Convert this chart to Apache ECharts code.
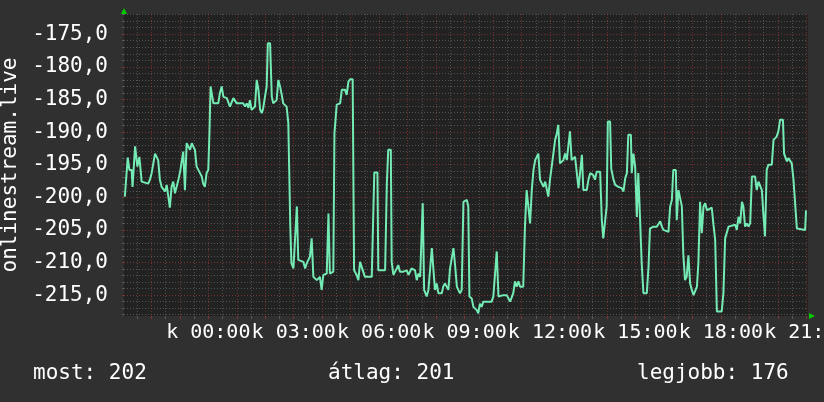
<!DOCTYPE html>
<html>
<head>
<meta charset="utf-8">
<script src="https://cdn.jsdelivr.net/npm/echarts@6/dist/echarts.min.js"></script>
<style>
html,body{margin:0;padding:0;background:#303030;}
#c{width:824px;height:402px;}
</style>
</head>
<body>
<div id="c"></div>
<script>
// time in hours relative to 00:00 of day "k"
const hours = [-2.93,-2.83,-2.77,-2.69,-2.66,-2.61,-2.57,-2.51,-2.49,-2.46,-2.42,-2.40,-2.34,-2.28,-2.11,-2.05,-1.99,-1.87,-1.81,-1.76,-1.70,-1.64,-1.52,-1.46,-1.41,-1.35,-1.29,-1.23,-1.17,-1.11,-1.05,-0.99,-0.93,-0.88,-0.82,-0.76,-0.70,-0.64,-0.58,-0.53,-0.47,-0.41,-0.35,-0.29,-0.23,-0.18,-0.12,-0.06,0.00,0.04,0.08,0.13,0.18,0.24,0.35,0.41,0.47,0.53,0.65,0.70,0.76,0.82,0.88,0.94,1.00,1.23,1.29,1.35,1.41,1.46,1.52,1.64,1.70,1.76,1.82,1.88,1.93,1.99,2.05,2.09,2.17,2.23,2.28,2.34,2.40,2.46,2.52,2.58,2.63,2.69,2.75,2.81,2.85,2.88,2.92,2.99,3.05,3.11,3.16,3.22,3.34,3.40,3.46,3.57,3.63,3.69,3.81,3.92,3.98,4.04,4.16,4.22,4.27,4.39,4.43,4.51,4.63,4.69,4.74,4.80,4.86,4.92,4.98,5.07,5.12,5.21,5.27,5.33,5.39,5.44,5.50,5.74,5.80,5.83,5.94,5.97,6.21,6.27,6.32,6.41,6.44,6.50,6.56,6.62,6.67,6.73,6.79,6.85,6.97,7.03,7.08,7.14,7.20,7.26,7.32,7.38,7.44,7.53,7.58,7.67,7.73,7.79,7.85,7.90,7.96,8.02,8.08,8.20,8.25,8.31,8.37,8.43,8.49,8.55,8.61,8.67,8.73,8.78,8.84,8.90,8.96,9.02,9.08,9.13,9.17,9.25,9.31,9.37,9.43,9.48,9.54,9.60,9.66,9.95,10.01,10.07,10.13,10.19,10.25,10.36,10.48,10.54,10.60,10.66,10.71,10.77,10.83,10.89,10.95,11.01,11.06,11.12,11.18,11.24,11.30,11.36,11.42,11.48,11.59,11.65,11.71,11.77,11.83,11.89,11.94,12.00,12.06,12.12,12.18,12.24,12.29,12.35,12.47,12.53,12.59,12.70,12.76,12.88,12.94,13.00,13.06,13.12,13.17,13.29,13.35,13.41,13.47,13.52,13.58,13.64,13.76,13.82,13.87,13.93,13.99,14.03,14.11,14.15,14.20,14.23,14.29,14.40,14.52,14.58,14.64,14.70,14.75,14.84,14.87,14.93,14.99,15.05,15.10,15.16,15.22,15.28,15.40,15.46,15.51,15.63,15.75,15.81,15.87,15.93,15.98,16.16,16.22,16.28,16.33,16.42,16.45,16.51,16.57,16.63,16.68,16.74,16.80,16.86,16.92,16.98,17.04,17.10,17.16,17.21,17.27,17.33,17.39,17.45,17.51,17.68,17.74,17.80,17.86,18.03,18.09,18.15,18.21,18.27,18.50,18.56,18.62,18.68,18.74,18.79,18.85,18.91,18.97,19.03,19.09,19.20,19.26,19.32,19.38,19.44,19.49,19.55,19.61,19.67,19.79,19.85,19.96,20.02,20.08,20.18,20.22,20.32,20.37,20.43,20.49,20.55,20.61,20.67,20.72,20.96,20.99];
const values = [-199.9,-193.9,-195.8,-195.8,-198.4,-198.4,-192.2,-192.2,-195.3,-195.3,-193.8,-193.8,-197.6,-197.9,-197.9,-197.3,-196.3,-193.3,-193.3,-194.3,-197.3,-198.4,-199.1,-198.1,-198.1,-201.6,-198.4,-197.6,-199.4,-199.4,-197.3,-196.1,-196.1,-193.0,-198.9,-191.7,-191.7,-192.7,-191.7,-192.2,-192.7,-195.3,-195.8,-196.3,-196.8,-197.9,-198.4,-196.3,-195.8,-190.2,-183.0,-183.0,-185.6,-185.6,-185.6,-184.0,-183.0,-184.6,-184.8,-185.1,-186.1,-186.1,-184.8,-185.1,-185.6,-185.6,-186.1,-185.6,-186.3,-185.1,-186.6,-186.1,-182.0,-183.5,-186.6,-187.1,-186.3,-184.6,-183.0,-176.4,-176.4,-184.6,-185.6,-185.8,-185.1,-182.0,-183.0,-184.3,-185.6,-185.8,-186.1,-188.6,-188.6,-204.5,-210.1,-210.9,-210.9,-201.4,-209.6,-209.6,-209.9,-210.9,-210.1,-209.1,-206.3,-212.2,-212.7,-212.2,-214.2,-211.9,-211.7,-202.5,-211.7,-211.4,-190.2,-185.8,-185.6,-183.5,-183.3,-183.5,-184.3,-182.3,-181.9,-181.9,-211.2,-211.9,-212.7,-209.9,-209.6,-211.4,-212.2,-212.2,-212.2,-196.2,-196.2,-211.2,-211.2,-197.9,-192.7,-192.7,-209.9,-211.9,-212.2,-210.9,-210.4,-211.4,-211.2,-211.4,-211.2,-211.9,-211.9,-210.9,-210.6,-211.2,-212.7,-211.7,-212.2,-200.9,-214.2,-215.2,-214.2,-214.2,-207.8,-208.1,-214.2,-213.2,-214.7,-214.7,-213.7,-213.2,-213.7,-214.2,-210.9,-210.6,-207.8,-210.6,-213.7,-214.2,-214.7,-214.2,-200.7,-200.4,-200.4,-201.4,-215.2,-215.5,-216.8,-216.5,-217.3,-217.8,-216.3,-216.8,-216.0,-216.0,-215.2,-215.2,-208.3,-215.2,-215.2,-215.0,-215.0,-215.2,-216.0,-216.3,-214.7,-212.9,-213.7,-212.9,-213.7,-214.0,-213.7,-204.5,-198.9,-198.6,-204.0,-198.9,-195.8,-194.3,-193.3,-197.3,-197.6,-198.4,-197.6,-197.9,-199.9,-197.3,-195.3,-195.0,-191.2,-190.2,-188.9,-194.8,-194.3,-193.3,-194.3,-189.9,-194.3,-193.8,-193.8,-198.6,-198.4,-193.5,-198.9,-198.9,-197.3,-196.3,-196.1,-196.6,-197.3,-196.1,-196.1,-203.5,-206.3,-206.3,-201.4,-188.4,-188.4,-195.6,-195.8,-197.3,-198.1,-198.4,-198.6,-199.1,-197.1,-196.3,-190.4,-190.4,-196.3,-193.3,-195.3,-203.0,-196.3,-203.0,-210.1,-214.7,-214.7,-210.6,-204.8,-204.5,-204.5,-204.1,-203.7,-204.5,-205.0,-205.3,-201.4,-200.4,-195.8,-195.8,-203.5,-198.9,-198.9,-201.4,-208.6,-212.7,-212.2,-208.9,-213.2,-214.2,-215.0,-215.0,-213.7,-210.1,-200.7,-205.5,-201.4,-200.9,-202.0,-201.6,-204.2,-206.5,-217.5,-217.5,-214.7,-206.3,-206.0,-204.5,-204.2,-205.0,-203.0,-204.0,-200.7,-201.4,-204.5,-204.0,-204.5,-204.0,-196.8,-196.8,-198.9,-197.6,-197.6,-198.9,-202.4,-206.0,-195.8,-195.0,-195.0,-191.2,-190.7,-189.9,-188.1,-188.1,-193.3,-194.5,-194.0,-194.0,-194.8,-197.3,-197.3,-204.8,-205.0,-205.0,-202.0];

const xLabelHours = [0, 3, 6, 9, 12, 15, 18, 21];
const dayAbbr = 'k';
const yLabelValues = [-215, -210, -205, -200, -195, -190, -185, -180, -175];
const axisTitle = 'onlinestream.live';
const footerTexts = ['most: 202', 'átlag: 201', 'legjobb: 176'];

const X_MIN = -2.96, X_MAX = 21.06;
const Y_MIN = -218.2, Y_MAX = -171.9;

const xMajor = [], xMinor = [], yMinor = [];
for (let h = -2; h <= 21; h++) xMajor.push(h);
for (let h = -2.5; h <= 21; h += 1) xMinor.push(h);
for (let v = -218; v <= -172; v++) if (v % 5 !== 0) yMinor.push(v);

const FONT = 'DejaVu Sans Mono';
const RED = 'rgba(190,60,60,0.55)';
const GRAY = 'rgba(150,150,150,0.42)';
const GREEN = '#00cc00';

const chart = echarts.init(document.getElementById('c'), null, {renderer: 'canvas'});
chart.setOption({
  backgroundColor: '#303030',
  animation: false,
  grid: {left: 124, top: 14, width: 684, height: 302, show: true, backgroundColor: '#222222', borderWidth: 0,
    containLabel: false, outerBoundsMode: 'none'},
  xAxis: [{
    type: 'value', min: X_MIN, max: X_MAX, position: 'bottom', z: 3,
    axisLine: {show: true, onZero: false, symbol: ['none', 'triangle'], symbolSize: [6, 6], symbolOffset: [0, 4],
      lineStyle: {color: GREEN, width: 0.01}},
    axisTick: {show: true, length: 3, customValues: xMajor, lineStyle: {color: RED}},
    axisLabel: {customValues: xLabelHours, margin: 7, color: '#ffffff', fontFamily: FONT, fontSize: 20,
      hideOverlap: false, showMinLabel: true, showMaxLabel: true,
      formatter: v => dayAbbr + ' ' + String(Math.round(v)).padStart(2, '0') + ':00'},
    splitLine: {show: true, lineStyle: {color: RED, width: 1, type: [1, 2]}}
  }, {
    type: 'value', min: X_MIN, max: X_MAX, position: 'bottom', z: 2,
    axisLine: {show: false, onZero: false},
    axisTick: {show: true, length: 3, customValues: xMinor, lineStyle: {color: GRAY}},
    axisLabel: {show: false},
    splitLine: {show: true, lineStyle: {color: GRAY, width: 1, type: [1, 2]}}
  }],
  yAxis: [{
    type: 'value', min: Y_MIN, max: Y_MAX, position: 'left', z: 3,
    name: axisTitle, nameLocation: 'middle', nameGap: 93, nameRotate: 90,
    nameTextStyle: {color: '#ffffff', fontFamily: FONT, fontSize: 21},
    axisLine: {show: true, onZero: false, symbol: ['none', 'triangle'], symbolSize: [6, 6], symbolOffset: [0, 3],
      lineStyle: {color: GREEN, width: 0.01}},
    axisTick: {show: true, length: 2, customValues: yLabelValues, lineStyle: {color: RED}},
    axisLabel: {customValues: yLabelValues, margin: 16, color: '#ffffff', fontFamily: FONT, fontSize: 21,
      hideOverlap: false, formatter: v => v.toFixed(1).replace('.', ',')},
    splitLine: {show: true, lineStyle: {color: RED, width: 1, type: [1, 2]}}
  }, {
    type: 'value', min: Y_MIN, max: Y_MAX, position: 'left', z: 2,
    axisLine: {show: false, onZero: false},
    axisTick: {show: true, length: 2, customValues: yMinor, lineStyle: {color: GRAY}},
    axisLabel: {show: false},
    splitLine: {show: true, lineStyle: {color: GRAY, width: 1, type: [1, 2]}}
  }],
  title: footerTexts.map((t, i) => ({
    text: t, left: [33, 328, 637][i], top: 363, padding: 0,
    textStyle: {color: '#ffffff', fontFamily: FONT, fontSize: 21, fontWeight: 'normal'}
  })),
  series: [{
    type: 'line', xAxisIndex: 0, yAxisIndex: 0, z: 5,
    data: hours.map((h, i) => [h, values[i]]),
    showSymbol: false, symbol: 'none',
    lineStyle: {color: '#74eab4', width: 2},
    clip: true
  }]
});
</script>
</body>
</html>
